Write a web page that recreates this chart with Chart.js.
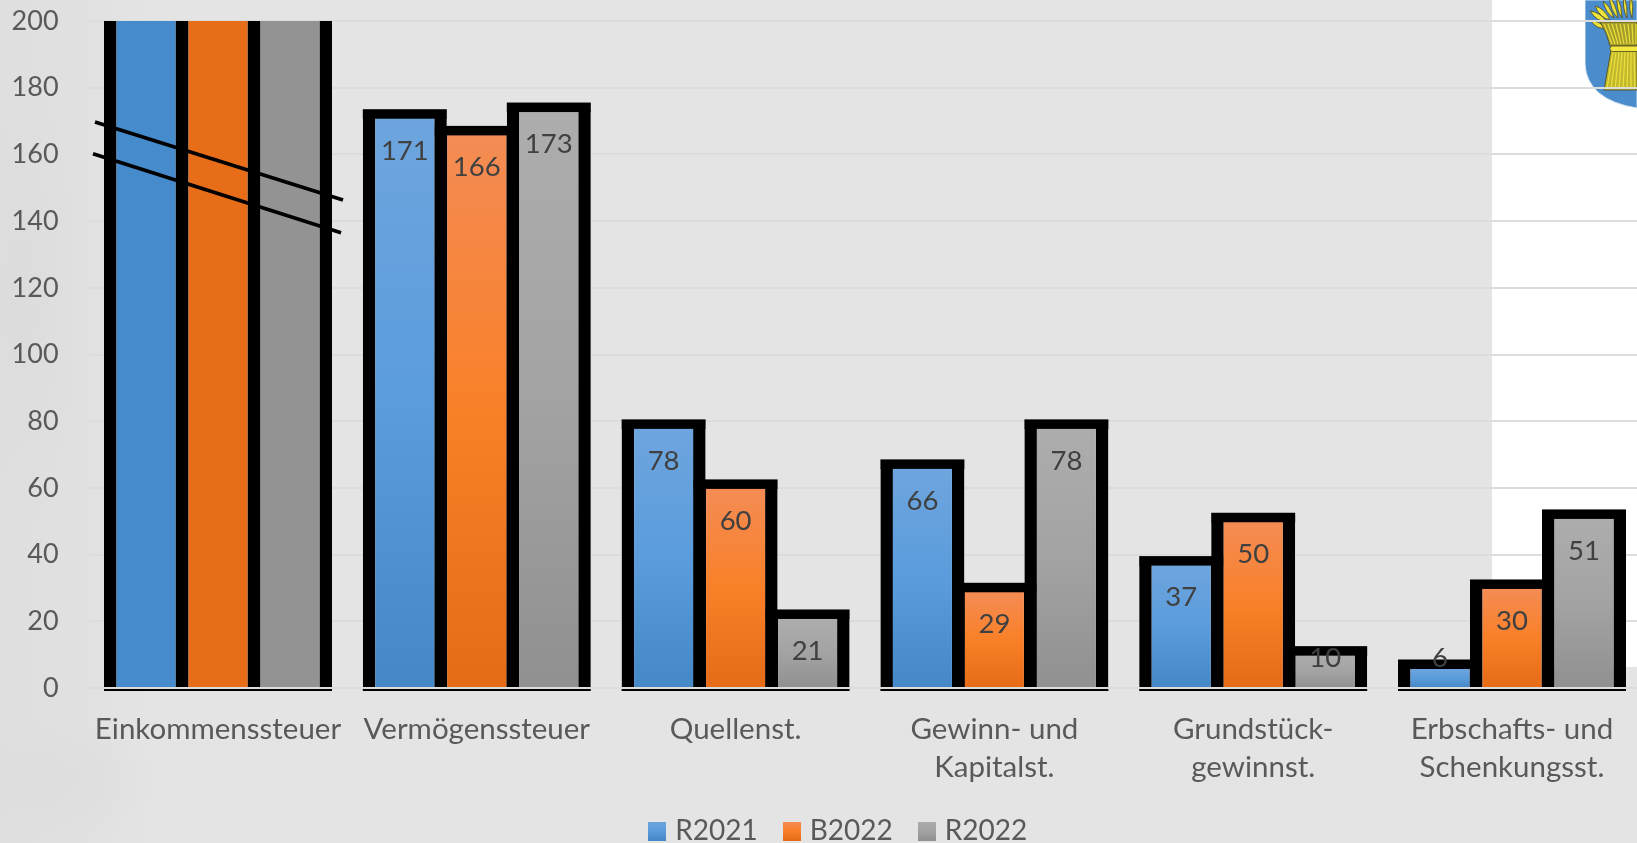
<!DOCTYPE html>
<html lang="de">
<head>
<meta charset="utf-8">
<title>Steuerertrag</title>
<script src="https://cdn.jsdelivr.net/npm/chart.js@4"></script>
<style>
    html, body { margin: 0; height: 100%; overflow: hidden; background: #e4e4e4; }
    #page { position: relative; width: 1637px; height: 843px; overflow: hidden;
        background:
            radial-gradient(ellipse 120px 60px at 40px 780px, #dddddd, rgba(221,221,221,0)),
            radial-gradient(ellipse 70px 240px at 20px 300px, #dcdcdc, rgba(220,220,220,0)),
            linear-gradient(90deg, #dfdfdf 0, #e1e1e1 90px, #e4e4e4 145px); }
    #white { position: absolute; left: 1492px; top: 0; width: 145px; height: 667px; background: #fff; }
    #crest { position: absolute; left: 1585px; top: 0; }
    canvas { position: absolute; left: 0; top: 0; }
</style>
</head>
<body>
<div id="page">
    <div id="white"></div>
    <svg id="crest" width="52" height="110" viewBox="0 0 52 110">
        <path d="M0 0 V64 Q2 100 52 108 V0 Z" fill="#4a8ccc" stroke="#cfe0f0" stroke-width="1"/>
        <g stroke="#4d4a1c" stroke-width="0.8" fill="#eee23c">
            <path d="M6 21 Q14 21 22 28 Q12 30 6 21 Z"/>
            <path d="M5 11 Q15 12 22 22 Q12 22 5 11 Z"/>
            <path d="M10 6 Q19 8 25 20 Q15 18 10 6 Z"/>
            <path d="M18 1 Q25 6 29 18 Q21 14 18 1 Z"/>
            <path d="M24 -4 Q31 4 33 18 Q26 12 24 -4 Z"/>
            <path d="M32 -4 Q37 6 37 18 Q31 10 32 -4 Z"/>
            <path d="M39 -4 Q43 6 42 18 Q37 8 39 -4 Z"/>
            <path d="M46 -4 Q49 6 47 18 Q43 8 46 -4 Z"/>
            <path d="M15 22 H52 V46 H25 Q22 32 15 22 Z" fill="#a59c2c"/>
            <path d="M26 50 H52 V90 H19 Z" fill="#c2b830"/>
        </g>
        <g stroke="#ece13a" stroke-width="1.2">
            <path d="M19 24 L27 44 M23 24 L30 44 M27 24 L33 44 M31 24 L36 44 M35 24 L39 44 M39 24 L42 44 M43 24 L45 44 M47 24 L48 44 M51 24 V44"/>
            <path d="M28 52 L22 88 M31 52 L26 89 M34 52 L30 89 M37 52 L34 89 M40 52 L38 89 M43 52 L42 89 M46 52 V89 M49 52 L50 89"/>
        </g>
        <rect x="25" y="46" width="30" height="5.5" rx="2.5" fill="#f4e840" stroke="#4d4a1c" stroke-width="0.8"/>
    </svg>
    <canvas id="chart" width="1676" height="855"></canvas>
</div>
<script>
const categories = ['Einkommenssteuer', 'Vermögenssteuer', 'Quellenst.', ['Gewinn- und', 'Kapitalst.'], ['Grundstück-', 'gewinnst.'], ['Erbschafts- und', 'Schenkungsst.']];
// Einkommenssteuer runs off the broken axis, its real values are not in the picture
const r2021 = [200, 171, 78, 66, 37, 6];
const b2022 = [200, 166, 60, 29, 50, 30];
const r2022 = [200, 173, 21, 78, 10, 51];
const seriesNames = ['R2021', 'B2022', 'R2022'];
const yTicks = [0, 20, 40, 60, 80, 100, 120, 140, 160, 180, 200];

const axisMax = 200;
const fontName = 'Lato, Carlito, sans-serif';
const blue = ['#6ea5de', '#5a9cdc', '#4488c8'];
const orange = ['#f48c55', '#f98028', '#e56b17'];
const gray = ['#adadad', '#a3a3a3', '#909090'];
const flatBlue = '#468bcb', flatOrange = '#e86d18', flatGray = '#939393';

// Verlauf über die ganze Balkenhöhe, abgeschnittene Balken bleiben flach
const barFill = (colors, flat) => (ctx) => {
    const { chart, raw } = ctx;
    if (!chart.chartArea || raw === undefined) return flat;
    if (raw >= axisMax) return flat;
    const y = chart.scales.y;
    const g = chart.ctx.createLinearGradient(0, y.getPixelForValue(raw), 0, y.getPixelForValue(0));
    g.addColorStop(0, colors[0]);
    g.addColorStop(0.5, colors[1]);
    g.addColorStop(1, colors[2]);
    return g;
};

const legendSwatch = (colors) => {
    const c = document.createElement('canvas');
    c.width = 18;
    c.height = 19;
    const x = c.getContext('2d');
    const g = x.createLinearGradient(0, 0, 0, 19);
    g.addColorStop(0, colors[0]);
    g.addColorStop(0.5, colors[1]);
    g.addColorStop(1, colors[2]);
    x.fillStyle = g;
    x.fillRect(0, 0, 18, 19);
    return c;
};

const makeDataset = (label, data, colors, flat) => ({
    label,
    data,
    backgroundColor: barFill(colors, flat),
    borderColor: '#000',
    borderWidth: { top: 0, left: 12.5, right: 12.5, bottom: 0 },
    borderSkipped: false,
    inflateAmount: 0,
    categoryPercentage: 0.8346,
    barPercentage: 1.1667,
    pointStyle: legendSwatch(colors)
});

// Deckel, Grundlinie und Wertbeschriftung der Balken
const barDecor = {
    id: 'barDecor',
    afterDatasetsDraw(chart) {
        const { ctx, scales: { y } } = chart;
        const zero = y.getPixelForValue(0);
        ctx.save();
        chart.data.datasets.forEach((ds, i) => {
            chart.getDatasetMeta(i).data.forEach((bar, j) => {
                const left = bar.x - bar.width / 2;
                ctx.fillStyle = '#000';
                if (ds.data[j] < axisMax) ctx.fillRect(left, bar.y - 8.5, bar.width, 9.5);
                ctx.fillRect(left, zero + 1, bar.width, 2);
                ctx.fillStyle = '#dcdcdc';
                ctx.fillRect(left, zero - 1, bar.width, 2);
            });
        });
        ctx.font = '27.5px ' + fontName;
        ctx.fillStyle = '#404040';
        ctx.textAlign = 'center';
        ctx.textBaseline = 'middle';
        chart.data.datasets.forEach((ds, i) => {
            chart.getDatasetMeta(i).data.forEach((bar, j) => {
                if (ds.data[j] >= axisMax) return;
                ctx.fillText(ds.data[j], bar.x, Math.min(bar.y + 33, zero - 30));
            });
        });
        ctx.restore();
    }
};

// die zwei schrägen Striche der Achsenunterbrechung
const axisBreak = {
    id: 'axisBreak',
    afterDraw(chart) {
        const { ctx, scales: { x, y } } = chart;
        const center = x.getPixelForValue(0);
        ctx.save();
        ctx.strokeStyle = '#000';
        ctx.lineWidth = 3.6;
        [[-123, 169.7, 125, 146.3], [-125, 160.2, 123, 136.5]].forEach(([dx1, v1, dx2, v2]) => {
            ctx.beginPath();
            ctx.moveTo(center + dx1, y.getPixelForValue(v1));
            ctx.lineTo(center + dx2, y.getPixelForValue(v2));
            ctx.stroke();
        });
        ctx.restore();
    }
};

// Legende sitzt in der Vorlage mittig unter dem ganzen Bild, nicht unter der Zeichenfläche
const legendShift = {
    id: 'legendShift',
    afterLayout(chart) {
        chart.legend.left += 19.5;
        chart.legend.right += 19.5;
    }
};

new Chart(document.getElementById('chart'), {
    type: 'bar',
    data: {
        labels: categories,
        datasets: [
            makeDataset(seriesNames[0], r2021, blue, flatBlue),
            makeDataset(seriesNames[1], b2022, orange, flatOrange),
            makeDataset(seriesNames[2], r2022, gray, flatGray)
        ]
    },
    options: {
        responsive: false,
        animation: false,
        layout: { padding: { left: 0, right: 34.6, top: 21, bottom: 0 } },
        scales: {
            x: {
                grid: { display: false },
                border: { display: false },
                ticks: {
                    color: '#595959',
                    font: { family: fontName, size: 29.5, lineHeight: 1.3 },
                    padding: 14,
                    maxRotation: 0,
                    autoSkip: false
                },
                afterFit: (scale) => { scale.height = 99; }
            },
            y: {
                min: 0,
                max: axisMax,
                grid: { color: '#dcdcdc', lineWidth: 2, drawTicks: false },
                border: { display: false },
                afterBuildTicks: (scale) => { scale.ticks = yTicks.map(value => ({ value })); },
                ticks: {
                    color: '#595959',
                    font: { family: fontName, size: 27 },
                    padding: 30
                },
                afterFit: (scale) => { scale.width = 88.6; scale.paddingTop = 0; scale.paddingBottom = 0; }
            }
        },
        plugins: {
            tooltip: { enabled: false },
            legend: {
                position: 'bottom',
                labels: {
                    color: '#595959',
                    font: { family: fontName, size: 28 },
                    usePointStyle: true,
                    pointStyleWidth: 8,
                    boxHeight: 19,
                    padding: 30
                }
            }
        }
    },
    plugins: [barDecor, axisBreak, legendShift]
});
</script>
</body>
</html>
